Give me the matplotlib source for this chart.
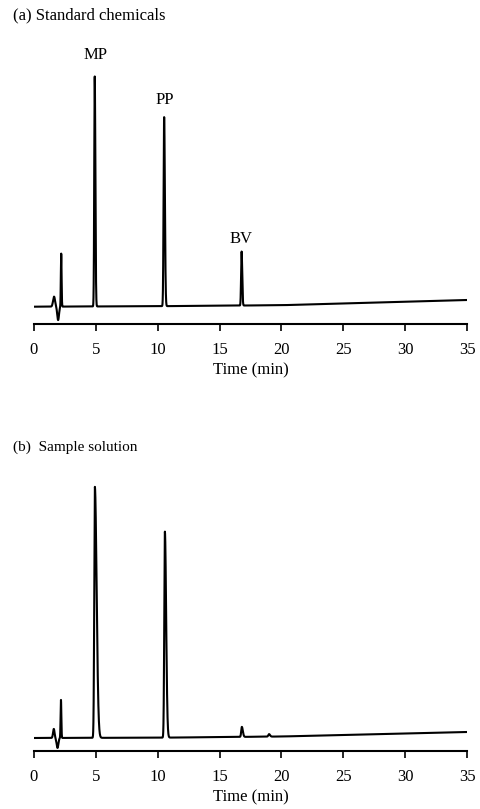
import numpy as np
import matplotlib
matplotlib.use('Agg')
import matplotlib.pyplot as plt

plt.rcParams['font.family'] = ['Liberation Serif', 'DejaVu Serif']

# peak tables (time in min, height in arbitrary units)
# (a) standard chemicals
a_times = [1.62, 1.95, 2.2, 4.91, 10.52, 16.78]
a_heights = [10.0, -13.5, 53.0, 230.0, 189.0, 54.0]
a_sig_left = [0.08, 0.07, 0.03, 0.04, 0.045, 0.04]
a_sig_right = [0.08, 0.07, 0.03, 0.05, 0.06, 0.05]
a_base_t = [0, 10, 20, 35]
a_base_y = [0.0, 0.5, 1.5, 6.7]
a_labels = ['MP', 'PP', 'BV']
a_label_t = [4.95, 10.6, 16.75]
a_label_y = [252, 207, 68]

# (b) sample solution
b_times = [1.6, 1.9, 2.18, 4.92, 10.58, 16.8, 19.0]
b_heights = [9.0, -10.0, 38.0, 251.0, 206.0, 10.0, 2.5]
b_sig_left = [0.06, 0.07, 0.03, 0.05, 0.05, 0.05, 0.06]
b_sig_right = [0.06, 0.07, 0.03, 0.14, 0.1, 0.08, 0.08]
b_base_t = [0, 10, 20, 35]
b_base_y = [0.0, 0.3, 1.5, 6.0]

ticks = [0, 5, 10, 15, 20, 25, 30, 35]


def trace(t, times, heights, sl, sr, bt, by):
    y = np.interp(t, bt, by)
    for t0, h, s1, s2 in zip(times, heights, sl, sr):
        s = np.where(t < t0, s1, s2)
        y = y + h*np.exp(-0.5*((t - t0)/s)**2)
    return y


t = np.linspace(0, 35, 20000)
ya = trace(t, a_times, a_heights, a_sig_left, a_sig_right, a_base_t, a_base_y)
yb = trace(t, b_times, b_heights, b_sig_left, b_sig_right, b_base_t, b_base_y)

fig = plt.figure(figsize=(4.8, 8.09), dpi=100)
W, H = 480.0, 809.0

def make_ax(bottom_px, top_px):
    return fig.add_axes([34/W, 1 - bottom_px/H, 433/W, (bottom_px - top_px)/H])

ax1 = make_ax(324, 60)
ax1.plot(t, ya, color='black', lw=1.5)
ax1.set_ylim(-17.3, 246.7)
for lab, lt, ly in zip(a_labels, a_label_t, a_label_y):
    ax1.text(lt, ly, lab, ha='center', va='center', fontsize=12)

ax2 = make_ax(750.7, 470)
ax2.plot(t, yb, color='black', lw=1.5)
ax2.set_ylim(-12.7, 268)

for ax in (ax1, ax2):
    ax.set_xlim(0, 35)
    for s in ('top', 'right', 'left'):
        ax.spines[s].set_visible(False)
    ax.spines['bottom'].set_linewidth(1.5)
    ax.set_yticks([])
    ax.set_xticks(ticks)
    ax.tick_params(axis='x', direction='out', length=5, width=1.2, pad=8, labelsize=12)
    ax.set_xlabel('Time (min)', fontsize=12, labelpad=3)
    ax.patch.set_visible(False)

fig.text(13/W, 1 - 15/H, '(a) Standard chemicals', ha='left', va='center', fontsize=12)
fig.text(13/W, 1 - 447/H, '(b)  Sample solution', ha='left', va='center', fontsize=11)

fig.savefig('out.png', dpi=100)
